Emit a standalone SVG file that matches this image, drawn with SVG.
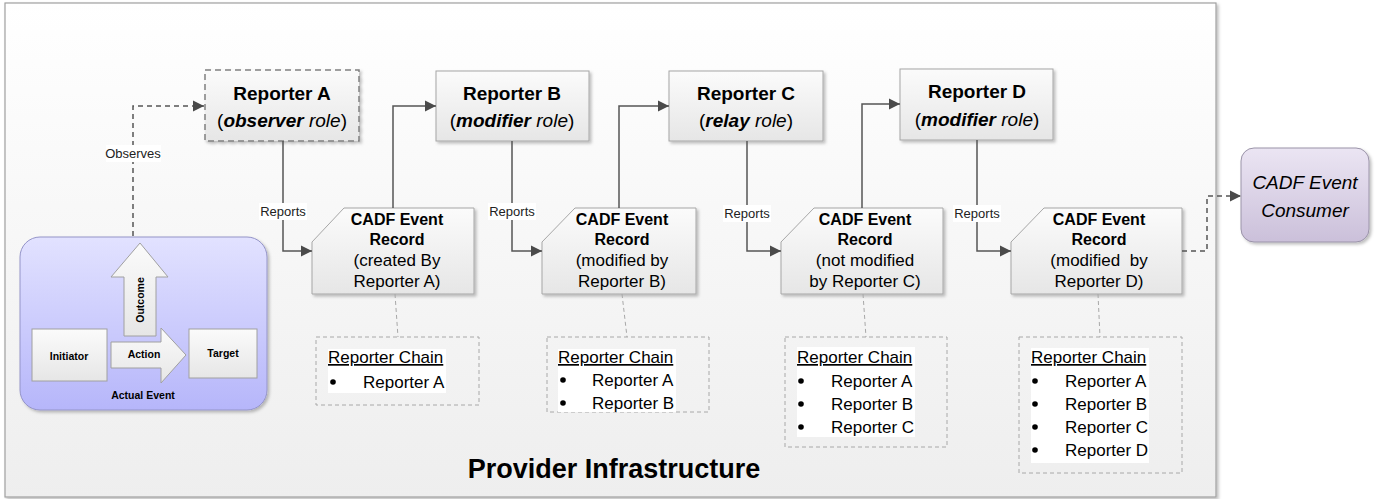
<svg xmlns="http://www.w3.org/2000/svg" width="1377" height="499" viewBox="0 0 1377 499">
<defs>
  <linearGradient id="gFrame" x1="0" y1="0" x2="0" y2="1">
    <stop offset="0" stop-color="#ffffff"/>
    <stop offset="1" stop-color="#eeeeee"/>
  </linearGradient>
  <linearGradient id="gBox" x1="0" y1="0" x2="0" y2="1">
    <stop offset="0" stop-color="#fbfbfb"/>
    <stop offset="1" stop-color="#e6e6e6"/>
  </linearGradient>
  <linearGradient id="gEvent" x1="0" y1="0" x2="0" y2="1">
    <stop offset="0" stop-color="#e2e2ff"/>
    <stop offset="1" stop-color="#b6b6fa"/>
  </linearGradient>
  <linearGradient id="gConsumer" x1="0" y1="0" x2="0" y2="1">
    <stop offset="0" stop-color="#ebe5f3"/>
    <stop offset="1" stop-color="#cbc0da"/>
  </linearGradient>
  <filter id="sh" x="-10%" y="-10%" width="130%" height="130%">
    <feDropShadow dx="2" dy="2" stdDeviation="1.5" flood-color="#000" flood-opacity="0.25"/>
  </filter>
  <marker id="arr" markerUnits="userSpaceOnUse" markerWidth="12" markerHeight="12" refX="11" refY="6" orient="auto">
    <path d="M0,0.5 L11,6 L0,11.5 z" fill="#4a4a4a"/>
  </marker>
  <style>
    .sans { font-family: "Liberation Sans", Arial, sans-serif; }
    .box { fill: url(#gBox); stroke: #a6a6a6; stroke-width: 1; filter: url(#sh); }
    .boxd { fill: url(#gBox); stroke: #808080; stroke-width: 1.5; stroke-dasharray: 6 4; filter: url(#sh); }
    .conn { fill: none; stroke: #555555; stroke-width: 1.5; }
    .dash { fill: none; stroke: #555555; stroke-width: 1.5; stroke-dasharray: 5 4; }
    .thin { fill: none; stroke: #a8a8a8; stroke-width: 1; stroke-dasharray: 4 3; }
    .rtitle { font-size: 19px; font-weight: bold; fill: #000; text-anchor: middle; }
    .rrole { font-size: 19px; fill: #000; text-anchor: middle; }
    .btitle { font-size: 16px; font-weight: bold; fill: #000; text-anchor: middle; }
    .bsub { font-size: 17px; fill: #000; text-anchor: middle; }
    .lbl { font-size: 13px; fill: #222; text-anchor: middle; }
    .lblbg { fill: #ffffff; }
    .chain { font-size: 17px; fill: #000; }
    .small { font-size: 10.5px; font-weight: bold; fill: #000; text-anchor: middle; }
    .inner { fill: url(#gBox); stroke: #a0a0a0; stroke-width: 1; }
  </style>
</defs>

<g id="frame">
  <rect x="5" y="3" width="1211" height="494" fill="url(#gFrame)" stroke="#a0a0a0" stroke-width="1.2" filter="url(#sh)"/>
  <text class="sans" x="614" y="478" font-size="27" font-weight="bold" text-anchor="middle" fill="#000">Provider Infrastructure</text>
</g>

<g id="actual-event">
  <rect x="20" y="237" width="247" height="173" rx="20" ry="20" fill="url(#gEvent)" stroke="#9494c8" stroke-width="1" filter="url(#sh)"/>
  <rect class="inner" x="32" y="329" width="75" height="52"/>
  <rect class="inner" x="189" y="329" width="68" height="49"/>
  <path class="inner" d="M111,342 H161 V328 L186,355 L161,383 V368 H111 Z"/>
  <path class="inner" d="M124,336 V277 H111 L140,243 L168,277 H156 V336 Z"/>
  <text class="sans small" x="69" y="360">Initiator</text>
  <text class="sans small" x="144" y="358">Action</text>
  <text class="sans small" x="223" y="357">Target</text>
  <text class="sans small" x="0" y="0" transform="translate(144,300) rotate(-90)">Outcome</text>
  <text class="sans small" x="143" y="399">Actual Event</text>
</g>

<g id="reporter-a">
  <rect class="boxd" x="205" y="70" width="154" height="71"/>
  <text class="sans rtitle" x="282" y="100">Reporter A</text>
  <text class="sans rrole" x="282" y="127">(<tspan font-weight="bold" font-style="italic">observer</tspan> <tspan font-style="italic">role</tspan>)</text>
</g>
<g id="reporter-b">
  <rect class="box" x="436" y="71" width="153" height="70"/>
  <text class="sans rtitle" x="512" y="100">Reporter B</text>
  <text class="sans rrole" x="512" y="127">(<tspan font-weight="bold" font-style="italic">modifier</tspan> <tspan font-style="italic">role</tspan>)</text>
</g>
<g id="reporter-c">
  <rect class="box" x="669" y="71" width="154" height="70"/>
  <text class="sans rtitle" x="746" y="100">Reporter C</text>
  <text class="sans rrole" x="746" y="127">(<tspan font-weight="bold" font-style="italic">relay</tspan> <tspan font-style="italic">role</tspan>)</text>
</g>
<g id="reporter-d">
  <rect class="box" x="900" y="69" width="153" height="71"/>
  <text class="sans rtitle" x="977" y="98">Reporter D</text>
  <text class="sans rrole" x="977" y="126">(<tspan font-weight="bold" font-style="italic">modifier</tspan> <tspan font-style="italic">role</tspan>)</text>
</g>

<g id="record-a">
  <path class="box" d="M344,208 H474 V294 H312 V242 Z"/>
  <text class="sans btitle" x="397" y="225">CADF Event</text>
  <text class="sans btitle" x="397" y="245">Record</text>
  <text class="sans bsub" x="397" y="266">(created By</text>
  <text class="sans bsub" x="397" y="287">Reporter A)</text>
</g>
<g id="record-b">
  <path class="box" d="M575,208 H696 V294 H542 V242 Z"/>
  <text class="sans btitle" x="622" y="225">CADF Event</text>
  <text class="sans btitle" x="622" y="245">Record</text>
  <text class="sans bsub" x="622" y="266">(modified by</text>
  <text class="sans bsub" x="622" y="287">Reporter B)</text>
</g>
<g id="record-c">
  <path class="box" d="M814,208 H943 V294 H781 V242 Z"/>
  <text class="sans btitle" x="865" y="225">CADF Event</text>
  <text class="sans btitle" x="865" y="245">Record</text>
  <text class="sans bsub" x="865" y="266">(not modified</text>
  <text class="sans bsub" x="865" y="287">by Reporter C)</text>
</g>
<g id="record-d">
  <path class="box" d="M1044,208 H1182 V294 H1011 V242 Z"/>
  <text class="sans btitle" x="1099" y="225">CADF Event</text>
  <text class="sans btitle" x="1099" y="245">Record</text>
  <text class="sans bsub" x="1099" y="266" xml:space="preserve">(modified  by</text>
  <text class="sans bsub" x="1099" y="287">Reporter D)</text>
</g>

<g id="consumer">
  <rect x="1241" y="148" width="128" height="94" rx="13" ry="13" fill="url(#gConsumer)" stroke="#9a93a8" stroke-width="1" filter="url(#sh)"/>
  <text class="sans" x="1305" y="189" font-size="19" font-style="italic" text-anchor="middle" fill="#000">CADF Event</text>
  <text class="sans" x="1305" y="217" font-size="19" font-style="italic" text-anchor="middle" fill="#000">Consumer</text>
</g>

<g id="chain-a">
  <rect class="thin" x="316" y="337" width="163" height="68"/>
  <rect fill="#fff" x="328" y="349" width="118" height="44"/>
  <text class="sans chain" x="328" y="363" text-decoration="underline">Reporter Chain</text>
  <circle cx="333" cy="382" r="2.8" fill="#000"/>
  <text class="sans chain" x="363" y="388">Reporter A</text>
</g>
<g id="chain-b">
  <rect class="thin" x="547" y="337" width="162" height="75"/>
  <rect fill="#fff" x="558" y="349" width="118" height="63"/>
  <text class="sans chain" x="558" y="363" text-decoration="underline">Reporter Chain</text>
  <circle cx="563" cy="380" r="2.8" fill="#000"/>
  <text class="sans chain" x="592" y="386">Reporter A</text>
  <circle cx="563" cy="403" r="2.8" fill="#000"/>
  <text class="sans chain" x="592" y="409">Reporter B</text>
</g>
<g id="chain-c">
  <rect class="thin" x="785" y="337" width="162" height="110"/>
  <rect fill="#fff" x="797" y="347" width="118" height="90"/>
  <text class="sans chain" x="797" y="363" text-decoration="underline">Reporter Chain</text>
  <circle cx="801" cy="381" r="2.8" fill="#000"/>
  <text class="sans chain" x="831" y="387">Reporter A</text>
  <circle cx="801" cy="404" r="2.8" fill="#000"/>
  <text class="sans chain" x="831" y="410">Reporter B</text>
  <circle cx="801" cy="427" r="2.8" fill="#000"/>
  <text class="sans chain" x="831" y="433">Reporter C</text>
</g>
<g id="chain-d">
  <rect class="thin" x="1019" y="337" width="163" height="136"/>
  <rect fill="#fff" x="1031" y="348" width="118" height="115"/>
  <text class="sans chain" x="1031" y="363" text-decoration="underline">Reporter Chain</text>
  <circle cx="1035" cy="381" r="2.8" fill="#000"/>
  <text class="sans chain" x="1065" y="387">Reporter A</text>
  <circle cx="1035" cy="404" r="2.8" fill="#000"/>
  <text class="sans chain" x="1065" y="410">Reporter B</text>
  <circle cx="1035" cy="427" r="2.8" fill="#000"/>
  <text class="sans chain" x="1065" y="433">Reporter C</text>
  <circle cx="1035" cy="450" r="2.8" fill="#000"/>
  <text class="sans chain" x="1065" y="456">Reporter D</text>
</g>

<g id="connectors">
  <path class="dash" d="M133,236 V106 H204" marker-end="url(#arr)"/>
  <path class="conn" d="M283,141 V251 H312" marker-end="url(#arr)"/>
  <path class="conn" d="M393,208 V106 H436" marker-end="url(#arr)"/>
  <path class="conn" d="M512,141 V251 H542" marker-end="url(#arr)"/>
  <path class="conn" d="M619,208 V106 H669" marker-end="url(#arr)"/>
  <path class="conn" d="M747,141 V251 H781" marker-end="url(#arr)"/>
  <path class="conn" d="M862,208 V104 H900" marker-end="url(#arr)"/>
  <path class="conn" d="M977,140 V251 H1011" marker-end="url(#arr)"/>
  <path class="dash" d="M1182,251 H1207 V196 H1241" marker-end="url(#arr)"/>
  <path class="thin" d="M395,294 L398,337"/>
  <path class="thin" d="M622,294 L627,337"/>
  <path class="thin" d="M863,294 L866,337"/>
  <path class="thin" d="M1098,294 L1100,337"/>
  <rect class="lblbg" x="106" y="145" width="55" height="17"/>
  <text class="sans lbl" x="133" y="158">Observes</text>
  <rect class="lblbg" x="259" y="203" width="48" height="17"/>
  <text class="sans lbl" x="283" y="216">Reports</text>
  <rect class="lblbg" x="488" y="203" width="48" height="17"/>
  <text class="sans lbl" x="512" y="216">Reports</text>
  <rect class="lblbg" x="723" y="205" width="48" height="17"/>
  <text class="sans lbl" x="747" y="218">Reports</text>
  <rect class="lblbg" x="953" y="205" width="48" height="17"/>
  <text class="sans lbl" x="977" y="218">Reports</text>
</g>
</svg>
